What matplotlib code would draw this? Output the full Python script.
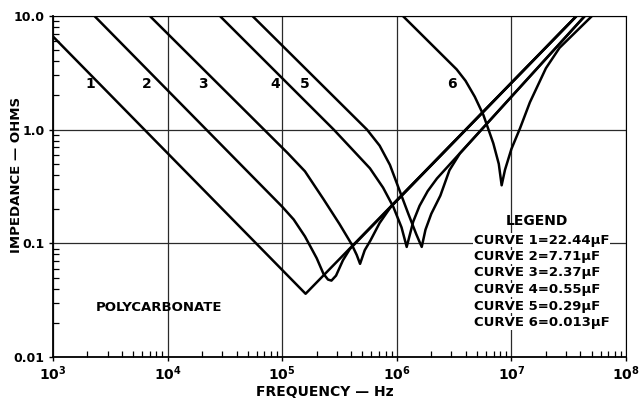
import matplotlib
matplotlib.use("Agg")
import matplotlib.pyplot as plt
from matplotlib.ticker import FixedLocator, NullFormatter

# impedance curves (frequency in Hz, impedance in ohms)
freq1 = [1.0e3, 1.6e5, 3.7e7]
imp1 = [6.6, 0.036, 10.0]

freq2 = [2.3e3, 1.0e5, 1.26e5, 1.58e5, 2.0e5, 2.29e5, 2.51e5, 2.69e5, 2.95e5, 3.39e5, 3.89e5, 3.7e7]
imp2 = [10.0, 0.21, 0.162, 0.115, 0.074, 0.054, 0.048, 0.047, 0.052, 0.071, 0.089, 10.0]

freq3 = [7.0e3, 1.12e5, 1.58e5, 2.29e5, 3.16e5, 4.04e5, 4.47e5, 4.78e5, 5.25e5, 5.89e5, 7.08e5, 9.0e5, 3.7e7]
imp3 = [10.0, 0.62, 0.43, 0.245, 0.148, 0.098, 0.079, 0.066, 0.087, 0.106, 0.151, 0.214, 10.0]

freq4 = [2.86e4, 2.82e5, 3.98e5, 5.83e5, 7.59e5, 9.33e5, 1.10e6, 1.22e6, 1.39e6, 1.58e6, 1.86e6, 2.24e6, 4.37e7]
imp4 = [10.0, 1.0, 0.69, 0.457, 0.309, 0.209, 0.138, 0.093, 0.155, 0.214, 0.288, 0.372, 10.0]

freq5 = [5.5e4, 5.5e5, 7.08e5, 8.71e5, 1.07e6, 1.26e6, 1.48e6, 1.65e6, 1.78e6, 2.0e6, 2.4e6, 2.88e6, 3.55e6, 4.37e7]
imp5 = [10.0, 1.0, 0.724, 0.49, 0.282, 0.182, 0.12, 0.093, 0.132, 0.182, 0.263, 0.44, 0.617, 10.0]

freq6 = [1.13e6, 3.33e6, 3.98e6, 4.79e6, 5.69e6, 6.95e6, 7.76e6, 8.22e6,
         8.79e6, 1.0e7, 1.19e7, 1.45e7, 2.0e7, 2.63e7, 5.05e7]
imp6 = [10.0, 3.39, 2.69, 1.95, 1.35, 0.759, 0.50, 0.324,
        0.443, 0.676, 1.03, 1.74, 3.47, 5.25, 10.0]

curve_labels = ["1", "2", "3", "4", "5", "6"]
legend_lines = ["CURVE 1=22.44\u03bcF", "CURVE 2=7.71\u03bcF", "CURVE 3=2.37\u03bcF",
                "CURVE 4=0.55\u03bcF", "CURVE 5=0.29\u03bcF", "CURVE 6=0.013\u03bcF"]

x_ticks = [1e3, 1e4, 1e5, 1e6, 1e7, 1e8]
x_ticklabels = [r"$\mathbf{10^{3}}$", r"$\mathbf{10^{4}}$", r"$\mathbf{10^{5}}$",
                r"$\mathbf{10^{6}}$", r"$\mathbf{10^{7}}$", r"$\mathbf{10^{8}}$"]
y_ticks = [0.01, 0.1, 1.0, 10.0]
y_ticklabels = ["0.01", "0.1", "1.0", "10.0"]

plt.rcParams["font.family"] = ["DejaVu Sans"]
plt.rcParams["font.weight"] = "bold"
plt.rcParams["mathtext.fontset"] = "dejavusans"

fig = plt.figure(figsize=(6.42, 3.99), dpi=100)
ax = fig.add_axes([53 / 642, 1 - 357 / 399, 573 / 642, 341 / 399])

ax.set_xscale("log")
ax.set_yscale("log")
ax.set_xlim(1e3, 1e8)
ax.set_ylim(0.01, 10.0)

# grid at decades
ax.grid(True, which="major", color="#2a2a2a", linewidth=0.9)

for f, z in [(freq1, imp1), (freq2, imp2), (freq3, imp3),
             (freq4, imp4), (freq5, imp5), (freq6, imp6)]:
    ax.plot(f, z, color="black", linewidth=1.8, solid_joinstyle="round")

ax.xaxis.set_major_locator(FixedLocator(x_ticks))
ax.set_xticklabels(x_ticklabels)
ax.yaxis.set_major_locator(FixedLocator(y_ticks))
ax.set_yticklabels(y_ticklabels)
ax.xaxis.set_minor_formatter(NullFormatter())
ax.yaxis.set_minor_formatter(NullFormatter())

ax.tick_params(which="major", direction="out", length=3, width=1, labelsize=9, pad=3)
ax.tick_params(which="minor", direction="in", length=4, width=0.9)
ax.tick_params(axis="x", which="major", labelsize=10, pad=2)

for s in ["left", "bottom"]:
    ax.spines[s].set_linewidth(1.3)
for s in ["top", "right"]:
    ax.spines[s].set_linewidth(0.8)

ax.set_xlabel("FREQUENCY \u2014 Hz", fontsize=10, fontweight="bold")
ax.set_ylabel("IMPEDANCE \u2014 OHMS", fontsize=9.5, fontweight="bold")
ax.xaxis.set_label_coords(0.475, -0.083)
ax.yaxis.set_label_coords(-0.053, 0.535)

# curve numbers
label_x = [0.065, 0.164, 0.262, 0.387, 0.44, 0.696]
for lx, t in zip(label_x, curve_labels):
    ax.text(lx, 0.80, t, transform=ax.transAxes, fontsize=10, fontweight="bold",
            ha="center", va="center")

ax.text(0.185, 0.144, "POLYCARBONATE", transform=ax.transAxes, fontsize=9.5,
        fontweight="bold", ha="center", va="center")

ax.text(0.845, 0.40, "LEGEND", transform=ax.transAxes, fontsize=10,
        fontweight="bold", ha="center", va="center")
leg_y = [0.343, 0.294, 0.247, 0.197, 0.149, 0.100]
for ly, t in zip(leg_y, legend_lines):
    ax.text(0.735, ly, t, transform=ax.transAxes, fontsize=9.5, fontweight="bold",
            ha="left", va="center",
            bbox=dict(facecolor="white", edgecolor="none", pad=0.5))

fig.savefig("out.png", dpi=100, facecolor="white")
